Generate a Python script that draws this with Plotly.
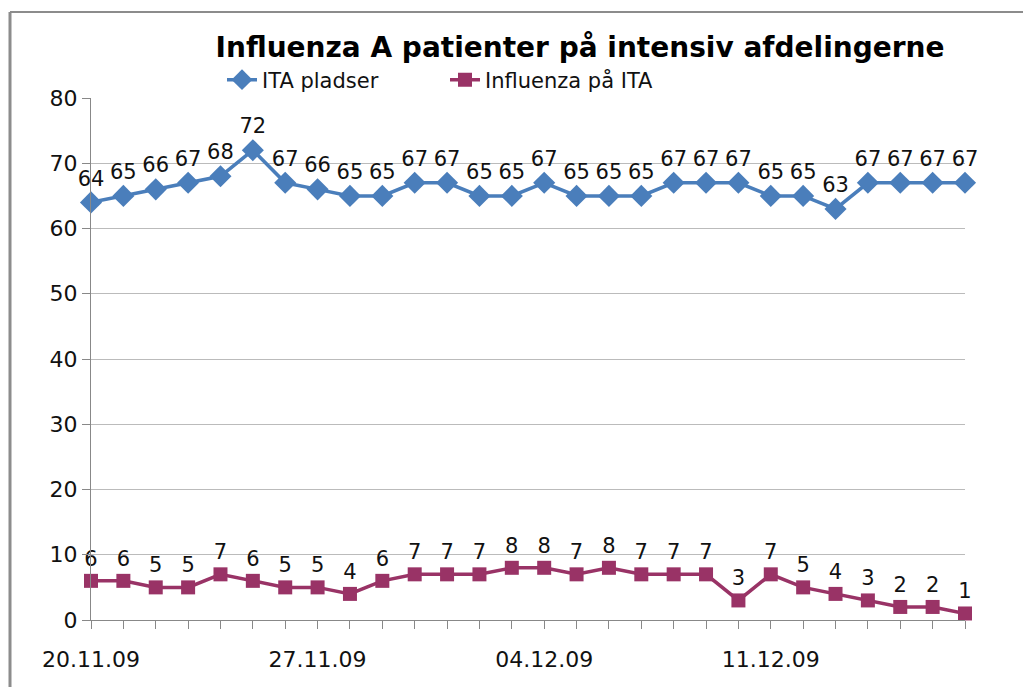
import plotly.graph_objects as go

dates = ["20.11.09", "21.11.09", "22.11.09", "23.11.09", "24.11.09", "25.11.09", "26.11.09",
         "27.11.09", "28.11.09", "29.11.09", "30.11.09", "01.12.09", "02.12.09", "03.12.09",
         "04.12.09", "05.12.09", "06.12.09", "07.12.09", "08.12.09", "09.12.09", "10.12.09",
         "11.12.09", "12.12.09", "13.12.09", "14.12.09", "15.12.09", "16.12.09", "17.12.09"]
ita_pladser = [64, 65, 66, 67, 68, 72, 67, 66, 65, 65, 67, 67, 65, 65, 67, 65, 65, 65, 67, 67,
               67, 65, 65, 63, 67, 67, 67, 67]
influenza_ita = [6, 6, 5, 5, 7, 6, 5, 5, 4, 6, 7, 7, 7, 8, 8, 7, 8, 7, 7, 7, 3, 7, 5, 4, 3, 2, 2, 1]
shown_ticks = ["20.11.09", "27.11.09", "04.12.09", "11.12.09"]

BLUE = "#4A7EBB"
MAROON = "#993366"
FONT = "DejaVu Sans"

OFF = 8  # page body margin offset
W, H = 1031 - OFF, 687 - OFF
L, T = 91 - OFF, 98 - OFF
R, B = 1031 - 965, 687 - 620
pw, ph = W - L - R, H - T - B


def px_x(p):
    return (p - OFF - L) / pw


def px_y(p):
    return 1 - (p - OFF - T) / ph


fig = go.Figure()
fig.add_trace(go.Scatter(
    x=dates, y=ita_pladser, name="ITA pladser", mode="lines+markers+text",
    line=dict(color=BLUE, width=3.5),
    marker=dict(symbol="diamond", size=17, color=BLUE),
    text=[str(v) for v in ita_pladser], textposition="top center",
    textfont=dict(family=FONT, size=21, color="#111111"),
    cliponaxis=False,
))
fig.add_trace(go.Scatter(
    x=dates, y=influenza_ita, name="Influenza på ITA", mode="lines+markers+text",
    line=dict(color=MAROON, width=3.5),
    marker=dict(symbol="square", size=14, color=MAROON),
    text=[str(v) for v in influenza_ita], textposition="top center",
    textfont=dict(family=FONT, size=21, color="#111111"),
    cliponaxis=False,
))

fig.update_layout(
    width=W, height=H,
    margin=dict(l=L, r=R, t=T, b=B),
    paper_bgcolor="white", plot_bgcolor="white",
    font=dict(family=FONT, size=21, color="#111111"),
    title=dict(text="<b>Influenza A patienter på intensiv afdelingerne</b>",
               x=(580 - OFF) / W, xanchor="center", xref="container",
               y=1 - (47 - OFF) / H, yanchor="middle", yref="container",
               font=dict(family=FONT, size=28, color="black")),
    showlegend=True,
    legend=dict(orientation="h", x=px_x(222), xanchor="left", y=px_y(80), yanchor="middle",
                font=dict(family=FONT, size=21, color="#111111"),
                bgcolor="rgba(0,0,0,0)", itemwidth=30, tracegroupgap=0,
                entrywidth=178),
    xaxis=dict(type="category", range=[0, 27], tickmode="array", tickvals=dates,
               ticktext=[d if d in shown_ticks else "" for d in dates],
               ticks="outside", ticklen=8, tickcolor="#888888", tickwidth=1,
               showline=True, linecolor="#888888", linewidth=1, showgrid=False,
               tickfont=dict(family=FONT, size=22), ticklabelstandoff=12),
    yaxis=dict(range=[0, 80], dtick=10, ticks="outside", ticklen=8, tickcolor="#888888",
               showline=True, linecolor="#888888", linewidth=1,
               showgrid=True, gridcolor="#BBBBBB", gridwidth=1, zeroline=False,
               tickfont=dict(family=FONT, size=22)),
)

# outer chart frame (left and top edges visible)
fig.add_shape(type="line", xref="paper", yref="paper",
              x0=px_x(10), x1=px_x(10), y0=px_y(12), y1=px_y(700),
              line=dict(color="#8C8C8C", width=3))
fig.add_shape(type="line", xref="paper", yref="paper",
              x0=px_x(10), x1=px_x(1040), y0=px_y(12), y1=px_y(12),
              line=dict(color="#8C8C8C", width=2))

fig.write_html("out.html")
